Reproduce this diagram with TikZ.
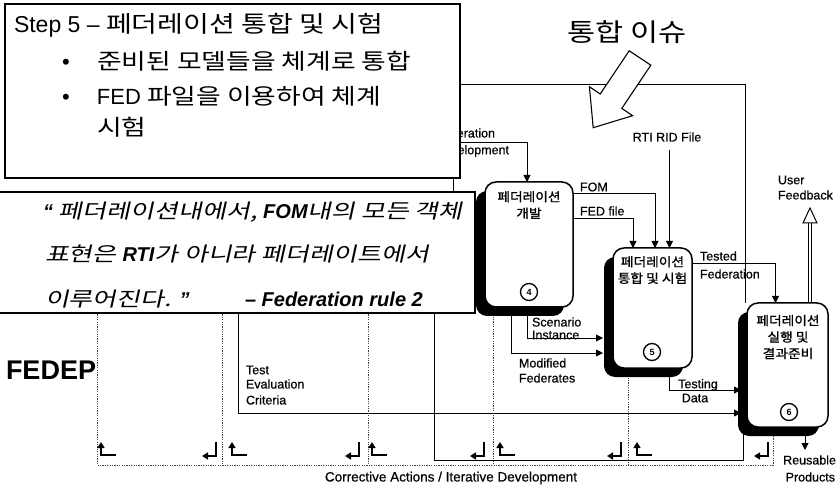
\documentclass[tikz,border=0pt]{standalone}
\usepackage{fontspec}
\setmainfont{Liberation Sans}
\newfontfamily\kr[FakeStretch=1.22]{Noto Sans CJK KR}
\newfontfamily\krb[FakeStretch=1.1,FakeBold=1.2]{Noto Sans CJK KR}
\newfontfamily\krit[FakeSlant=0.22,FakeStretch=1.3]{Noto Sans CJK KR}
\newfontfamily\labf[FakeBold=0.6]{Liberation Sans}
\usetikzlibrary{arrows.meta,shadows,calc}
\pgfdeclarelayer{bg}
\pgfsetlayers{bg,main}
\newcommand\lbi[1]{{\rmfamily\bfseries\itshape #1}}
\begin{document}
\begin{tikzpicture}[x=1pt,y=-1pt,
  every node/.style={inner sep=0pt, outer sep=0pt},
  lab/.style={font=\labf\fontsize{12.5}{14}\selectfont},
  frame/.style={line width=0.9pt},
  conn/.style={line width=0.9pt},
  tip/.style={-{Triangle[length=7pt,width=7pt]}},
  dotl/.style={line width=0.7pt, dash pattern=on 1.2pt off 1.2pt, black!75},
  sym/.style={line width=1.5pt, -{Triangle[length=6pt,width=7pt]}},
  proc/.style={draw, line width=1.5pt, rounded corners=11pt, fill=white,
    general shadow={fill=black, shadow xshift=-9pt, shadow yshift=-9pt}},
  ptxt/.style={font=\krb\fontsize{12.5}{16.5}\selectfont, align=center},
  numc/.style={circle, draw, line width=1.3pt, minimum size=17pt, font=\bfseries\fontsize{9}{9}\selectfont},
  panel/.style={draw, fill=white, line width=1.2pt, anchor=north west},
  upret/.pic={\draw[sym] (15,0) -- (0,0) -- (0,-13);},
  dnret/.pic={\draw[sym] (0,-14) -- (0,0) -- (-14,0);}
]
\useasboundingbox (0,0) rectangle (838,486);

% process boxes
\node[proc, minimum width=88pt, minimum height=125pt] (b4) at (529,244.5) {};
\node[proc, minimum width=79pt, minimum height=120pt] (b5) at (652.5,308) {};
\node[proc, minimum width=81pt, minimum height=124pt] (b6) at (787.5,365) {};
\node[ptxt] (t4) at (529,205) {페더레이션\\개발};
\node[ptxt] (t5) at (652.5,270) {페더레이션\\통합 및 시험};
\node[ptxt] (t6) at (788,337) {페더레이션\\실행 및\\결과준비};
\node[numc] (c4) at (529,292) {4};
\node[numc] (c5) at (652,352) {5};
\node[numc] (c6) at (789,412) {6};

\begin{pgfonlayer}{bg}
  % outer frame lines
  \coordinate (fa) at (440,84);
  \draw[frame] (fa) -| ($(b6.north west)+(-2,0)$);
  \coordinate (fv1) at (453,170);
  \coordinate (fv2) at (453,200);
  \draw[frame] (fv1) -- (fv2);
  % federation development input
  \node[lab, anchor=east] (fd1) at (495,133) {Federation};
  \node[lab, anchor=east] (fd2) at (509,151) {Development};
  \coordinate (fdin) at (440,142);
  \draw[conn,tip] (fdin) -| ($(b4.north)+(-2,0)$);
  % FOM, FED file, RTI RID
  \draw[conn,tip] ($(b4.north east)+(0,11)$) -| ($(b5.north)+(2.5,0)$);
  \draw[conn,tip] ($(b4.north east)+(0,36)$) -| ($(b5.north)+(-19.5,0)$);
  \coordinate (rtitop) at (669.5,150);
  \draw[conn,tip] (rtitop) -- ($(b5.north)+(17,0)$);
  % tested federation
  \draw[conn,tip] ($(b5.north east)+(0,15)$) -| ($(b6.north)+(-12,0)$);
  % scenario / modified
  \draw[conn,tip] ($(b4.south)+(-2,0)$) |- ($(b5.west)+(-10,30)$);
  \draw[conn,tip] ($(b4.south)+(-18,0)$) |- ($(b5.west)+(-10,45)$);
  % testing data
  \draw[conn,tip] ($(b5.south)+(16.5,0)$) |- ($(b6.west)+(-6,25)$);
  % test evaluation criteria
  \coordinate (tec) at (238,300);
  \draw[conn,tip] (tec) |- ($(b6.west)+(-6,48)$);
  % feedback loop
  \coordinate (fbtop) at (434,300);
  \draw[frame] ($(b6.south)+(-44.5,0)$) -- ++(0,33) -| (fbtop);
  % reusable products
  \draw[conn,tip] ($(b6.south)+(17.5,0)$) -- ++(0,23);
  % user feedback
  \coordinate (uf0) at ($(b6.north)+(22.5,0)$);
  \draw[line width=0.7pt, double, double distance=2.2pt] (uf0) -- ++(0,-80);
  % dotted iteration lines
  \coordinate (d1) at (97,300);
  \coordinate (d2) at (222,300);
  \coordinate (d3) at (368,300);
  \draw[dotl] (d1) -- (97,465) -- ($(b6.south)+(-14.5,38)$) -- ($(b6.south)+(-14.5,0)$);
  \draw[dotl] (d2) -- (222,465);
  \draw[dotl] (d3) -- (368,465);
  \draw[dotl] ($(b4.south)+(-36,0)$) -- ++(0,158);
  \draw[dotl] ($(b5.south)+(-24.5,0)$) -- ++(0,97);
\end{pgfonlayer}

% user feedback open arrow head
\draw[line width=1pt, fill=white] ($(uf0)+(-7,-80)$) -- ($(uf0)+(7,-80)$) -- ($(uf0)+(0,-95)$) -- cycle;

% labels
\node[lab, anchor=west] (lfom) at (580,187) {FOM};
\node[lab, anchor=west] (lfed) at (580,211) {FED file};
\node[lab] (lrti) at (667,137) {RTI RID File};
\node[lab, anchor=west] (ltest1) at (700,256) {Tested};
\node[lab, anchor=west] (ltest2) at (700,274) {Federation};
\node[lab, anchor=west] (luf1) at (778,180) {User};
\node[lab, anchor=west] (luf2) at (778,195) {Feedback};
\node[lab, anchor=west] (lsc1) at (532,322) {Scenario};
\node[lab, anchor=west] (lsc2) at (532,335) {Instance};
\node[lab, anchor=west] (lmf1) at (519,363) {Modified};
\node[lab, anchor=west] (lmf2) at (519,378) {Federates};
\node[lab] (ltd1) at (698,385) {Testing};
\node[lab] (ltd2) at (695,398) {Data};
\node[lab, anchor=west] (lte1) at (246,370) {Test};
\node[lab, anchor=west] (lte2) at (246,384) {Evaluation};
\node[lab, anchor=west] (lte3) at (246,400) {Criteria};
\node[lab, anchor=east] (lrp1) at (836,460) {Reusable};
\node[lab, anchor=east] (lrp2) at (835,477) {Products};
\node[font=\labf\fontsize{13.5}{15}\selectfont] (corr) at (451,478) {Corrective Actions / Iterative Development};

% iteration symbols
\foreach \x in {101,232,372,500,637} \pic at (\x,455) {upret};
\foreach \x in {216,359,484,621,768} \pic at (\x,456) {dnret};

% FEDEP
\node[anchor=base west, font=\bfseries\fontsize{27}{30}\selectfont] (fedep) at (6,379) {FEDEP};

% integration issue arrow
\node[font=\kr\fontsize{25}{28}\selectfont] (issue) at (627,32) {통합 이슈};
\draw[fill=white, line width=1.1pt] (650.8,65.2) -- (621.8,108.4) -- (632.6,115.7) -- (593.2,127.7) -- (589.4,86.7) -- (600.2,94.0) -- (629.2,50.8) -- cycle;

% step panel
\node[panel, minimum width=455pt, minimum height=174pt] (stepbox) at (5,4) {};
\node[anchor=base west, font=\fontsize{23}{26}\selectfont] (s1) at (14,33) {Step 5 – {\kr 페더레이션 통합 및 시험}};
\node[anchor=base west, font=\fontsize{22}{26}\selectfont] (s2) at (62,70) {\makebox[35pt][l]{•}{\kr 준비된 모델들을 체계로 통합}};
\node[anchor=base west, font=\fontsize{22}{26}\selectfont] (s3) at (62,105) {\makebox[35pt][l]{•}FED {\kr 파일을 이용하여 체계}};
\node[anchor=base west, font=\kr\fontsize{22}{26}\selectfont] (s4) at (97,136) {시험};

% quote panel
\node[panel, minimum width=477pt, minimum height=121pt] (quote) at (-2,192) {};
\node[anchor=base west, font=\krit\fontsize{20}{24}\selectfont] (q1) at (43,219) {\lbi{“} 페더레이션내에서, \lbi{FOM}내의 모든 객체};
\node[anchor=base west, font=\krit\fontsize{20}{24}\selectfont] (q2) at (45,262) {표현은 \lbi{RTI}가 아니라 페더레이트에서};
\node[anchor=base west, font=\krit\fontsize{20}{24}\selectfont] (q3) at (45,307) {이루어진다. \lbi{”}};
\node[anchor=base west, font=\fontsize{20}{24}\selectfont] (q4) at (245,307) {\lbi{– Federation rule 2}};
\end{tikzpicture}
\end{document}
